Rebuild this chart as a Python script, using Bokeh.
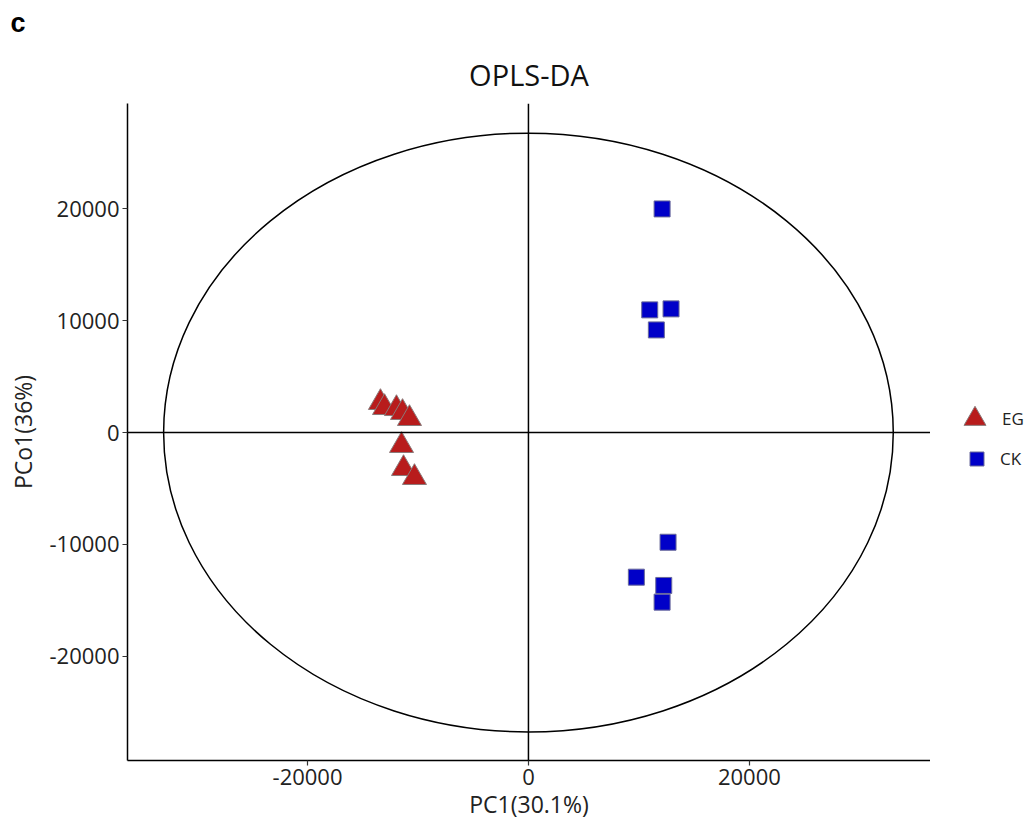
from bokeh.plotting import figure
from bokeh.layouts import row
from bokeh.models import (Legend, LegendItem, Span, FixedTicker, Title, ColumnDataSource,
                          PrintfTickFormatter)
from bokeh.embed import file_html
from bokeh.resources import INLINE

# ---- data ----
eg_pc1 = [-13400, -13030, -11950, -11400, -10770, -11490, -11310, -10320]
eg_pco1 = [2680, 2230, 2140, 1790, 1250, -1160, -3220, -4020]
ck_pc1 = [12100, 10980, 12910, 11580, 12640, 9770, 12250, 12100]
ck_pco1 = [19980, 10960, 11050, 9170, -9800, -12920, -13660, -15150]
groups = ["EG", "CK"]
x_ticks = [-20000, 0, 20000]
y_ticks = [-20000, -10000, 0, 10000, 20000]
ellipse_semi_x = 33030
ellipse_semi_y = 26750
x_label = "PC1(30.1%)"
y_label = "PCo1(36%)"
title_text = "OPLS-DA"
panel_tag = "c"

FONT = "Open Sans"
H = 826
LEFT, TOP, RIGHT, BOTTOM = 127, 103, 930, 760
W2 = 95
NAN = float("nan")

EG_FILL, EG_LINE = "#B81C1C", "#8a7a7a"
CK_FILL, CK_LINE = "#0000C8", "#6a6a9a"

p = figure(width=RIGHT, height=H, x_range=(-36300, 36400), y_range=(-29300, 29400),
           output_backend="svg", toolbar_location=None,
           min_border_left=LEFT, min_border_top=TOP,
           min_border_right=0, min_border_bottom=H - BOTTOM)
p.outline_line_color = None
p.xgrid.visible = False
p.ygrid.visible = False
p.background_fill_color = "white"
p.border_fill_color = "white"

# crosshair
p.add_layout(Span(location=0, dimension="width", line_color="black", line_width=1.5))
p.add_layout(Span(location=0, dimension="height", line_color="black", line_width=1.5))

# ellipse
p.ellipse(x=[0], y=[0], width=[2 * ellipse_semi_x], height=[2 * ellipse_semi_y],
          fill_color=None, line_color="black", line_width=1.5)

src_eg = ColumnDataSource(dict(x=eg_pc1, y=eg_pco1))
src_ck = ColumnDataSource(dict(x=ck_pc1, y=ck_pco1))
p.scatter("x", "y", source=src_eg, marker="triangle", size=24,
          fill_color=EG_FILL, line_color=EG_LINE, line_width=1)
p.scatter("x", "y", source=src_ck, marker="square", size=16,
          fill_color=CK_FILL, line_color=CK_LINE, line_width=1)

for ax in (p.xaxis[0], p.yaxis[0]):
    ax.axis_line_width = 1.5
    ax.axis_line_color = "black"
    ax.major_tick_line_color = "#333333"
    ax.major_tick_line_width = 1.2
    ax.major_tick_out = 5
    ax.major_tick_in = 0
    ax.minor_tick_line_color = None
    ax.major_label_text_font = FONT
    ax.major_label_text_font_size = "22px"
    ax.major_label_text_color = "#222222"
    ax.axis_label_text_font = FONT
    ax.axis_label_text_font_size = "23px"
    ax.axis_label_text_font_style = "normal"
    ax.axis_label_text_color = "#222222"
    ax.major_label_standoff = 3
    ax.axis_label_standoff = 0
    ax.formatter = PrintfTickFormatter(format="%d")

p.yaxis[0].axis_label_standoff = 8
p.xaxis[0].ticker = FixedTicker(ticks=x_ticks)
p.yaxis[0].ticker = FixedTicker(ticks=y_ticks)
p.xaxis[0].axis_label = x_label
p.yaxis[0].axis_label = y_label
p.yaxis[0].major_label_orientation = "horizontal"

# outer title row: panel tag; inner row (next to frame): chart title
p.title.text = panel_tag
p.title.align = "left"
p.title.offset = -117
p.title.text_font = "Liberation Sans"
p.title.text_font_size = "27px"
p.title.text_font_style = "bold"
p.title.text_color = "black"
p.title.standoff = 9
p.add_layout(Title(text=title_text, align="center", text_font=FONT, text_font_size="29px",
                   text_font_style="normal", text_color="#111111", standoff=20), "above")

# ---- legend panel (its frame is aligned with the main frame) ----
q = figure(width=W2, height=H, x_range=(0, 1), y_range=(0, 1), output_backend="svg",
           toolbar_location=None, x_axis_location=None, y_axis_location=None,
           min_border=0)
q.outline_line_color = None
q.xgrid.visible = False
q.ygrid.visible = False
q.border_fill_color = "white"
q.background_fill_color = "white"
k_eg = q.scatter(x=[NAN], y=[NAN], marker="triangle", fill_color=EG_FILL, line_color=EG_LINE,
                 line_width=1)
k_ck = q.scatter(x=[NAN], y=[NAN], marker="square", fill_color=CK_FILL, line_color=CK_LINE,
                 line_width=1)
common = dict(margin=0, padding=0, border_line_color=None, background_fill_alpha=0,
              label_text_font=FONT, label_text_font_size="17px", label_text_color="#222222")
q.add_layout(Legend(items=[LegendItem(label=groups[0], renderers=[k_eg])],
                    location=(17, 314), glyph_width=55, glyph_height=55, label_standoff=-2,
                    **common))
q.add_layout(Legend(items=[LegendItem(label=groups[1], renderers=[k_ck])],
                    location=(29, 284), glyph_width=35, glyph_height=35, label_standoff=6,
                    **common))

open("out.html", "w").write(file_html(row(p, q), INLINE))
